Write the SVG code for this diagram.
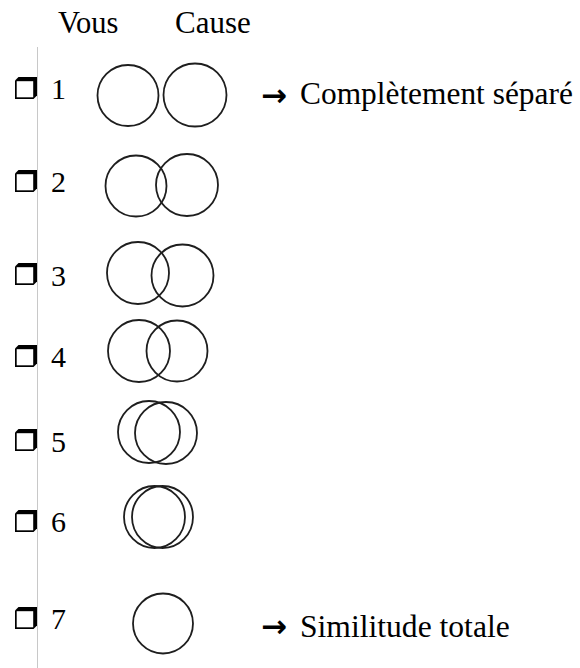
<svg xmlns="http://www.w3.org/2000/svg" width="580" height="668" viewBox="0 0 580 668">
<defs>
<g id="chk">
<path d="M0,3.5 L3.5,0 L22,0 L22,18.5 L18.5,22 L0,22 Z" fill="#000"/>
<rect x="1.7" y="4.2" width="16.5" height="16.1" fill="#fff"/>
</g>
</defs>
<rect width="580" height="668" fill="#fff"/>
<g id="header">
<text x="58" y="33" font-family="Liberation Serif" font-size="30.5">Vous</text>
<text x="175" y="33" font-family="Liberation Serif" font-size="31">Cause</text>
</g>
<g id="connectors">
<line x1="37.5" y1="47" x2="37.5" y2="668" stroke="#c8c8c8" stroke-width="1"/>
</g>
<g id="circles" fill="none" stroke="#1e1e1e" stroke-width="1.8">
<circle cx="128" cy="95.5" r="30.5"/>
<circle cx="195" cy="95" r="31.5"/>
<circle cx="136" cy="186" r="30.5"/>
<circle cx="187" cy="185" r="31"/>
<circle cx="138" cy="273" r="31"/>
<circle cx="182.5" cy="275.5" r="31"/>
<circle cx="139" cy="351" r="31"/>
<circle cx="177" cy="351" r="30.5"/>
<circle cx="149" cy="432" r="31"/>
<circle cx="166" cy="433" r="31"/>
<ellipse cx="154.5" cy="517" rx="30.5" ry="31"/>
<ellipse cx="162.5" cy="517" rx="30.5" ry="31"/>
<circle cx="163" cy="623.5" r="30"/>
</g>
<g id="row1">
<use href="#chk" x="15" y="77"/>
<text x="51" y="99" font-family="Liberation Serif" font-size="30">1</text>
<text x="261" y="106" font-family="DejaVu Sans" font-size="31" font-weight="bold">→</text>
<text x="300" y="104" font-family="Liberation Serif" font-size="31.4">Complètement séparé</text>
</g>
<g id="row2">
<use href="#chk" x="15" y="170"/>
<text x="51" y="192" font-family="Liberation Serif" font-size="30">2</text>
</g>
<g id="row3">
<use href="#chk" x="15" y="263"/>
<text x="51" y="286" font-family="Liberation Serif" font-size="30">3</text>
</g>
<g id="row4">
<use href="#chk" x="15" y="345"/>
<text x="51" y="367" font-family="Liberation Serif" font-size="30">4</text>
</g>
<g id="row5">
<use href="#chk" x="15" y="429"/>
<text x="51" y="452" font-family="Liberation Serif" font-size="30">5</text>
</g>
<g id="row6">
<use href="#chk" x="15" y="510"/>
<text x="51" y="532" font-family="Liberation Serif" font-size="30">6</text>
</g>
<g id="row7">
<use href="#chk" x="15" y="607"/>
<text x="51" y="629" font-family="Liberation Serif" font-size="30">7</text>
<text x="261" y="637" font-family="DejaVu Sans" font-size="31" font-weight="bold">→</text>
<text x="300" y="637" font-family="Liberation Serif" font-size="31.6">Similitude totale</text>
</g>
</svg>
